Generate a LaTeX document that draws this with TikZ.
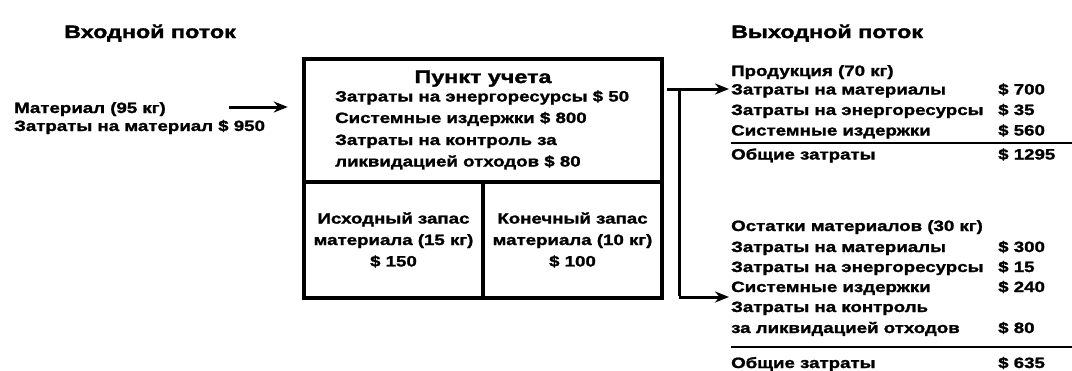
\documentclass[tikz,border=0pt]{standalone}
\usepackage{fontspec}
\newfontfamily\bodyfont{Liberation Sans}[FakeStretch=1.25, BoldFeatures={FakeBold=1.5}]
\newfontfamily\titlefont{Liberation Sans}[FakeStretch=1.3, BoldFeatures={FakeBold=2}]
\usetikzlibrary{arrows.meta}
\tikzset{
  txt/.style={font=\bodyfont\bfseries\fontsize{15}{17}\selectfont, inner sep=0pt, anchor=base west},
  ttl/.style={font=\titlefont\bfseries\fontsize{18}{20}\selectfont, inner sep=0pt},
  cell/.style={draw, line width=4.5bp, inner sep=0pt},
  ctxt/.style={font=\bodyfont\bfseries\fontsize{15}{21.5}\selectfont, inner sep=0pt, align=center},
  arr/.style={line width=3bp, -{Stealth[length=14bp,width=11bp]}},
  conn/.style={line width=3bp},
  rulel/.style={line width=2.5bp},
}
\begin{document}
\begin{tikzpicture}[x=1bp,y=-1bp]
\useasboundingbox (0,0) rectangle (1072,370);
% input
\node[ttl, anchor=base] (inT) at (150,38) {Входной поток};
\node[txt] (in1) at (14,113) {Материал (95 кг)};
\node[txt] (in2) at (14,131) {Затраты на материал \$ 950};
% box
\node[cell, minimum width=358bp, minimum height=123bp] (top) at (483,120.5) {};
\node[cell, minimum width=179bp, minimum height=116bp] (bl) at (393.5,240) {};
\node[cell, minimum width=179bp, minimum height=116bp] (br) at (572.5,240) {};
\coordinate (a0) at (229,107);
\draw[arr, shorten >=14bp] (a0) -- (a0 -| top.west);
\node[ttl, anchor=base] (pt) at (483,83) {Пункт учета};
\node[txt] (t1) at (335,101.5) {Затраты на энергоресурсы \$ 50};
\node[txt] (t2) at (335,123) {Системные издержки \$ 800};
\node[txt] (t3) at (335,145) {Затраты на контроль за};
\node[txt] (t4) at (335,166.5) {ликвидацией отходов \$ 80};
\node[ctxt] (blt) at (bl) {Исходный запас\\материала (15 кг)\\\$ 150};
\node[ctxt] (brt) at (br) {Конечный запас\\материала (10 кг)\\\$ 100};
% output 1
\node[ttl, anchor=base west] (outT) at (731,38) {Выходной поток};
\node[txt] (p0) at (731,76) {Продукция (70 кг)};
\node[txt] (p1) at (731,94.5) {Затраты на материалы};
\node[txt] (p1v) at (998,94.5) {\$ 700};
\node[txt] (p2) at (731,115) {Затраты на энергоресурсы};
\node[txt] (p2v) at (998,115) {\$ 35};
\node[txt] (p3) at (731,135.5) {Системные издержки};
\node[txt] (p3v) at (998,135.5) {\$ 560};
\coordinate (r1a) at (731,143);
\coordinate (r1b) at (1072,143);
\draw[rulel] (r1a) -- (r1b);
\node[txt] (p4) at (731,159.5) {Общие затраты};
\node[txt] (p4v) at (998,159.5) {\$ 1295};
% output 2
\node[txt] (q0) at (731,231) {Остатки материалов (30 кг)};
\node[txt] (q1) at (731,252) {Затраты на материалы};
\node[txt] (q1v) at (998,252) {\$ 300};
\node[txt] (q2) at (731,272) {Затраты на энергоресурсы};
\node[txt] (q2v) at (998,272) {\$ 15};
\node[txt] (q3) at (731,292) {Системные издержки};
\node[txt] (q3v) at (998,292) {\$ 240};
\node[txt] (q4) at (731,312) {Затраты на контроль};
\node[txt] (q5) at (731,333) {за ликвидацией отходов};
\node[txt] (q5v) at (998,333) {\$ 80};
\coordinate (r2a) at (731,347);
\coordinate (r2b) at (1072,347);
\draw[rulel] (r2a) -- (r2b);
\node[txt] (q6) at (731,368) {Общие затраты};
\node[txt] (q6v) at (998,368) {\$ 635};
% branch
\coordinate (j1) at (679,89);
\coordinate (j2) at (679,297);
\draw[arr] ([xshift=3bp]top.east |- j1) -- ([xshift=-2bp]p1.west |- j1);
\draw[conn] ([yshift=-1.5bp]j1) -- ([yshift=1.5bp]j2);
\draw[arr] (j2) -- ([xshift=-2bp]q4.west |- j2);
\end{tikzpicture}
\end{document}
